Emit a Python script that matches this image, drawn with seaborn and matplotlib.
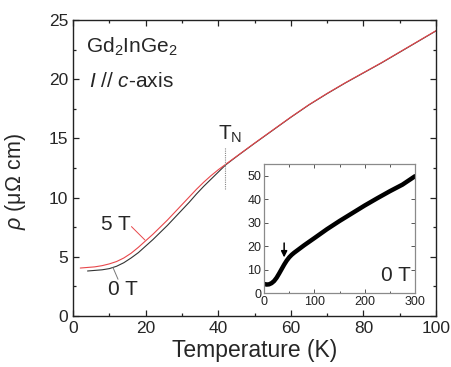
import numpy as np
import pandas as pd
import matplotlib
matplotlib.use("Agg")
import matplotlib.pyplot as plt
import seaborn as sns
from matplotlib.ticker import MultipleLocator

# ---- data ----
T_5T = [2, 4, 6, 8, 10, 12, 14, 16, 18, 20, 22, 24, 26, 28, 30, 32, 34, 36, 38, 40,
        42, 44, 46, 48, 50, 55, 60, 65, 70, 75, 80, 85, 90, 95, 100]
rho_5T = [4.05, 4.1, 4.15, 4.25, 4.4, 4.6, 4.9, 5.3, 5.8, 6.35, 6.9, 7.5, 8.1, 8.75, 9.4,
          10.05, 10.7, 11.3, 11.85, 12.35, 12.8, 13.25, 13.7, 14.15, 14.6, 15.7, 16.8,
          17.85, 18.8, 19.7, 20.55, 21.4, 22.3, 23.2, 24.1]
T_0T = [4, 6, 8, 10, 12, 14, 16, 18, 20, 22, 24, 26, 28, 30, 32, 34, 36, 38, 40,
        42, 44, 46, 48, 50, 55, 60, 65, 70, 75, 80, 85, 90, 95, 100]
rho_0T = [3.8, 3.85, 3.9, 4.0, 4.2, 4.5, 4.9, 5.35, 5.9, 6.45, 7.05, 7.65, 8.3, 8.95,
          9.6, 10.3, 10.95, 11.55, 12.15, 12.75, 13.22, 13.68, 14.13, 14.58, 15.68,
          16.78, 17.83, 18.78, 19.68, 20.53, 21.38, 22.28, 23.18, 24.08]
T_inset = [2, 5, 10, 15, 20, 25, 30, 35, 40, 45, 50, 55, 60, 65, 70, 80, 100, 125, 150,
           175, 200, 225, 250, 275, 300]
rho_inset = [3.8, 3.6, 3.7, 4.2, 5.1, 6.5, 8.3, 10.2, 12.1, 13.8, 15.2, 16.3, 17.2,
             18.0, 18.8, 20.4, 23.4, 27.2, 30.7, 34.0, 37.3, 40.4, 43.4, 46.2, 49.8]
x_ticks = [0, 20, 40, 60, 80, 100]
y_ticks = [0, 5, 10, 15, 20, 25]
inset_x_ticks = [0, 100, 200, 300]
inset_y_ticks = [0, 10, 20, 30, 40, 50]
T_N = 42

sns.set_style("ticks")
plt.rcParams['font.family'] = ['Liberation Sans', 'DejaVu Sans']
plt.rcParams['mathtext.fontset'] = 'custom'
plt.rcParams['mathtext.rm'] = 'Liberation Sans'
plt.rcParams['mathtext.it'] = 'Liberation Sans:italic'
plt.rcParams['mathtext.bf'] = 'Liberation Sans:bold'

fig = plt.figure(figsize=(4.51, 3.67), dpi=100)
ax = fig.add_axes([0.1619, 0.1390, 0.8049, 0.8065])

df5 = pd.DataFrame({"T": T_5T, "rho": rho_5T})
df0 = pd.DataFrame({"T": T_0T, "rho": rho_0T})
sns.lineplot(data=df0, x="T", y="rho", ax=ax, color="#333333", lw=0.8)
sns.lineplot(data=df5, x="T", y="rho", ax=ax, color="#e8474b", lw=0.8)

ax.set_xlim(0, 100)
ax.set_ylim(0, 25)
ax.set_xticks(x_ticks)
ax.set_yticks(y_ticks)
ax.xaxis.set_minor_locator(MultipleLocator(10))
ax.yaxis.set_minor_locator(MultipleLocator(2.5))
ax.tick_params(which='both', direction='in', top=True, right=True, labelsize=12.5,
               width=0.9, color="#222222")
ax.tick_params(which='major', length=4)
ax.tick_params(which='minor', length=2.5)
for s in ax.spines.values():
    s.set_linewidth(1.0)
    s.set_color("#222222")
ax.set_xlabel("Temperature (K)", fontsize=16.5, labelpad=2)
ax.set_ylabel(r"$\rho$ (μΩ cm)", fontsize=15.5)
ax.yaxis.set_label_coords(-0.125, 0.455)

# annotations
ax.text(3.5, 22.2, r"Gd$_2$InGe$_2$", fontsize=15)
ax.text(4.5, 19.3, r"$I$ // $c$-axis", fontsize=15)
ax.text(7.8, 7.3, "5 T", fontsize=15)
ax.plot([16.1, 19.8], [7.55, 6.42], color="#e8474b", lw=0.7)
ax.text(9.6, 1.8, "0 T", fontsize=15)
ax.plot([11.0, 12.4], [4.1, 3.1], color="#777777", lw=0.7)
ax.text(40.0, 14.9, r"T$_\mathrm{N}$", fontsize=15)
ax.plot([T_N, T_N], [10.7, 14.3], color="#888888", lw=0.8, ls=(0, (1, 1)))

# inset
axi = fig.add_axes([0.5854, 0.2016, 0.3348, 0.3515])
dfi = pd.DataFrame({"T": T_inset, "rho": rho_inset})
sns.lineplot(data=dfi, x="T", y="rho", ax=axi, color="black", lw=3.2)
axi.set_xlim(0, 300)
axi.set_ylim(0, 55)
axi.set_xticks(inset_x_ticks)
axi.set_yticks(inset_y_ticks)
axi.xaxis.set_minor_locator(MultipleLocator(50))
axi.tick_params(which='both', direction='in', top=True, right=True, labelsize=9,
                pad=2, color="#555555", labelcolor="#222222", width=0.7)
axi.tick_params(which='major', length=3)
axi.tick_params(which='minor', length=1.8)
for s in axi.spines.values():
    s.set_linewidth(0.9)
    s.set_color("#8a8a8a")
axi.set_xlabel("")
axi.set_ylabel("")
axi.text(233, 5.0, "0 T", fontsize=15)
axi.annotate("", xy=(40, 14.0), xytext=(40, 22.5),
             arrowprops=dict(arrowstyle="-|>", color="black", lw=1.1,
                             mutation_scale=9))

fig.savefig("out.png", dpi=100)
